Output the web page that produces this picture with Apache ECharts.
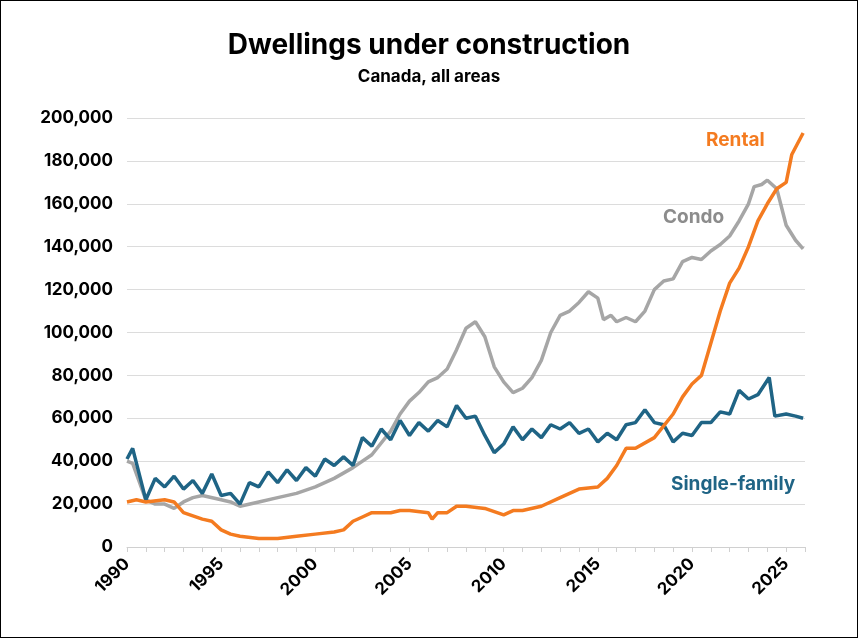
<!DOCTYPE html>
<html>
<head>
<meta charset="utf-8">
<script src="https://cdn.jsdelivr.net/npm/echarts@6/dist/echarts.min.js"></script>
<style>
  html, body { margin: 0; padding: 0; background: #fff; }
  #chart { width: 856px; height: 636px; border: 1px solid #000; }
</style>
</head>
<body>
<div id="chart"></div>
<script>
// dwellings under construction, thousands, [year, value]
const singleFamily = [
  [1990, 41], [1990.3, 46], [1991, 22], [1991.5, 32], [1992, 28], [1992.5, 33], [1993, 27], [1993.5, 31],
  [1994, 25], [1994.5, 34], [1995, 24], [1995.5, 25], [1996, 20], [1996.5, 30], [1997, 28], [1997.5, 35],
  [1998, 30], [1998.5, 36], [1999, 31], [1999.5, 37], [2000, 33], [2000.5, 41], [2001, 38], [2001.5, 42],
  [2002, 38], [2002.5, 51], [2003, 47], [2003.5, 55], [2004, 50], [2004.5, 59], [2005, 52], [2005.5, 58],
  [2006, 54], [2006.5, 59], [2007, 56], [2007.5, 66], [2008, 60], [2008.5, 61], [2009, 52], [2009.5, 44],
  [2010, 48], [2010.5, 56], [2011, 50], [2011.5, 55], [2012, 51], [2012.5, 57], [2013, 55], [2013.5, 58],
  [2014, 53], [2014.5, 55], [2015, 49], [2015.5, 53], [2016, 50], [2016.5, 57], [2017, 58], [2017.5, 64],
  [2018, 58], [2018.5, 57], [2019, 49], [2019.5, 53], [2020, 52], [2020.5, 58], [2021, 58], [2021.5, 63],
  [2022, 62], [2022.5, 73], [2023, 69], [2023.5, 71], [2024.1, 79], [2024.4, 61], [2025, 62], [2025.5, 61], [2025.9, 60]
];
const rental = [
  [1990, 21], [1990.5, 22], [1991, 21], [1992, 22], [1992.5, 21], [1993, 16], [1994, 13], [1994.5, 12],
  [1995, 8], [1995.5, 6], [1996, 5], [1997, 4], [1998, 4], [1999, 5], [2000, 6], [2001, 7], [2001.5, 8],
  [2002, 12], [2002.5, 14], [2003, 16], [2004, 16], [2004.5, 17], [2005, 17], [2006, 16], [2006.2, 13],
  [2006.5, 16], [2007, 16], [2007.5, 19], [2008, 19], [2009, 18], [2010, 15], [2010.5, 17], [2011, 17],
  [2012, 19], [2013, 23], [2014, 27], [2015, 28], [2015.5, 32], [2016, 38], [2016.5, 46], [2017, 46],
  [2018, 51], [2019, 62], [2019.5, 70], [2020, 76], [2020.5, 80], [2021, 95], [2021.5, 110], [2022, 123],
  [2022.5, 130], [2023, 140], [2023.5, 152], [2024, 160], [2024.5, 167], [2025, 170], [2025.3, 183], [2025.9, 193]
];
const condo = [
  [1990, 40], [1990.3, 39], [1991, 22], [1991.5, 20], [1992, 20], [1992.5, 18], [1993, 21], [1993.5, 23],
  [1994, 24], [1995, 22], [1995.5, 21], [1996, 19], [1997, 21], [1998, 23], [1999, 25], [2000, 28],
  [2001, 32], [2002, 37], [2003, 43], [2004, 54], [2004.5, 62], [2005, 68], [2005.5, 72], [2006, 77],
  [2006.5, 79], [2007, 83], [2007.5, 92], [2008, 102], [2008.5, 105], [2009, 98], [2009.5, 84], [2010, 77],
  [2010.5, 72], [2011, 74], [2011.5, 79], [2012, 87], [2012.5, 100], [2013, 108], [2013.5, 110], [2014, 114],
  [2014.5, 119], [2015, 116], [2015.3, 106], [2015.7, 108], [2016, 105], [2016.5, 107], [2017, 105], [2017.5, 110],
  [2018, 120], [2018.5, 124], [2019, 125], [2019.5, 133], [2020, 135], [2020.5, 134], [2021, 138], [2021.5, 141],
  [2022, 145], [2022.5, 152], [2023, 160], [2023.3, 168], [2023.7, 169], [2024, 171], [2024.5, 167], [2025, 150],
  [2025.5, 143], [2025.9, 139]
];
const scale = 1000;

const toPts = arr => arr.map(p => [p[0], p[1] * scale]);
const font = 'Inter, "Noto Sans", sans-serif';

const chart = echarts.init(document.getElementById('chart'));
chart.setOption({
  animation: false,
  title: {
    text: 'Dwellings under construction',
    subtext: 'Canada, all areas',
    left: 'center',
    top: 26,
    itemGap: 8,
    textStyle: { fontFamily: font, fontSize: 28, fontWeight: 'bold', color: '#000' },
    subtextStyle: { fontFamily: font, fontSize: 17, fontWeight: 'bold', color: '#000' }
  },
  grid: { left: 126, right: 52, top: 117, bottom: 90 },
  xAxis: {
    type: 'value', min: 1990, max: 2026, interval: 1,
    axisLine: { lineStyle: { color: '#d0d0d0' } },
    axisTick: { show: true, length: 5, lineStyle: { color: '#d0d0d0' } },
    splitLine: { show: false },
    axisLabel: {
      rotate: 45, margin: 14, fontFamily: font, fontSize: 17, fontWeight: 'bold', color: '#000',
      formatter: v => (v % 5 === 0 && v <= 2025 ? String(v) : '')
    }
  },
  yAxis: {
    type: 'value', min: 0, max: 200000, interval: 20000,
    axisLine: { show: false }, axisTick: { show: false },
    splitLine: { lineStyle: { color: '#dcdcdc' } },
    axisLabel: {
      fontFamily: font, fontSize: 17, fontWeight: 'bold', color: '#000', margin: 14,
      formatter: v => v.toLocaleString('en-US')
    }
  },
  series: [
    { name: 'Condo', type: 'line', data: toPts(condo), showSymbol: false, lineStyle: { width: 3.5, color: '#a6a6a6' } },
    { name: 'Single-family', type: 'line', data: toPts(singleFamily), showSymbol: false, lineStyle: { width: 3.5, color: '#1f6485' } },
    { name: 'Rental', type: 'line', data: toPts(rental), showSymbol: false, lineStyle: { width: 3.5, color: '#f47b20' } }
  ],
  graphic: [
    { type: 'text', left: 705, top: 130, style: { text: 'Rental', fill: '#f47b20', font: 'bold 19px ' + font } },
    { type: 'text', left: 662, top: 207, style: { text: 'Condo', fill: '#8c8c8c', font: 'bold 19px ' + font } },
    { type: 'text', left: 670, top: 474, style: { text: 'Single-family', fill: '#1f6485', font: 'bold 19px ' + font } }
  ]
});
</script>
</body>
</html>
